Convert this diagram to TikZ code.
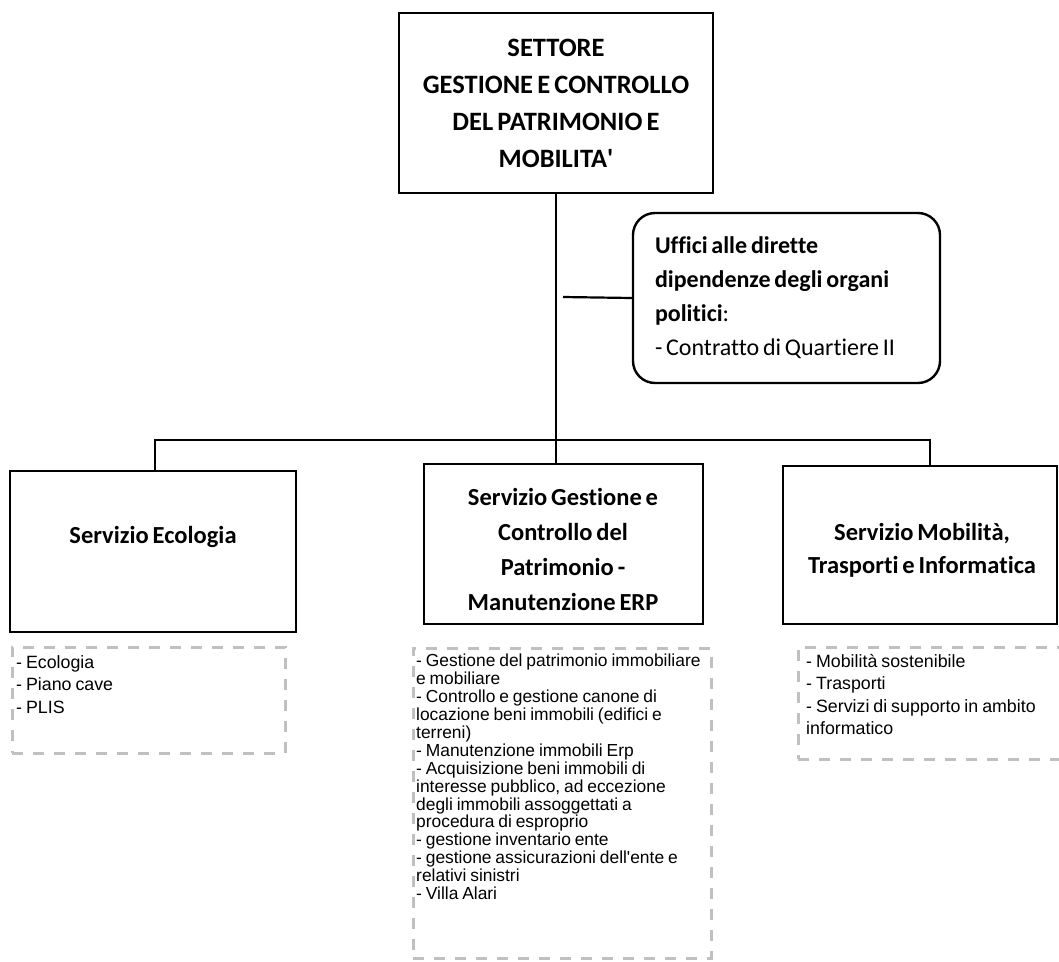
\documentclass[tikz,border=0pt]{standalone}
\usepackage{amsmath, amssymb}
\usepackage{fontspec}
\setmainfont{Carlito}[Ligatures={NoCommon}, WordSpace=0.7]
\newfontfamily\elencofont{Liberation Sans}[WordSpace=0.8]
\usepackage{tikz}

\definecolor{grigio}{RGB}{192,192,192}

\tikzset{
        settore/.style={draw=black, line width=2.4pt, align=center, font=\fontsize{26.5}{37}\selectfont\bfseries},
        ufficio/.style={draw=black, line width=2.4pt, rounded corners=22pt, align=flush left, inner xsep=22pt, text width=263pt, font=\fontsize{24}{34}\selectfont},
        servbox/.style={draw=black, line width=2.4pt},
        servtitolo/.style={align=center, font=\fontsize{24.5}{35}\selectfont\bfseries},
        elencobox/.style={draw=grigio, line width=3pt, dash pattern=on 11pt off 10pt},
        elenco/.style={align=left, anchor=north west, font=\elencofont\fontsize{17.8}{22.5}\selectfont},
        linea/.style={draw=black, line width=2.2pt}
}

\begin{document}
\begin{tikzpicture}[x=1pt,y=-1pt]
                \tikzstyle{every node}+=[inner sep=0pt]
                \clip (0,0) rectangle (1059,961);
                \node [settore, minimum width=314, minimum height=180] (settore) at (556,103) {SETTORE\\GESTIONE E CONTROLLO\\DEL PATRIMONIO E\\MOBILITA\textquotesingle};
                \node [ufficio, minimum height=170] (uffici) at (786.5,298) {\textbf{Uffici alle dirette}\\\textbf{dipendenze degli organi}\\\textbf{politici}:\\- Contratto di Quartiere II};
                \node [servbox, minimum width=286, minimum height=161] (ecologia) at (153,551.5) {};
                \node [servtitolo] (ecologiaT) at (153,537) {Servizio Ecologia};
                \node [servbox, minimum width=279, minimum height=160] (gestione) at (563.5,544) {};
                \node [servtitolo] (gestioneT) at (563,549) {Servizio Gestione e\\Controllo del\\Patrimonio -\\Manutenzione ERP};
                \node [servbox, minimum width=274, minimum height=158] (mobilita) at (920,545) {};
                \node [servtitolo, font=\fontsize{24.5}{33}\selectfont\bfseries] (mobilitaT) at (922,550) {Servizio Mobilità,\\Trasporti e Informatica};
                \node [elencobox, minimum width=273, minimum height=106] (ecologiaB) at (148.5,700) {};
                \node [elenco] (ecologiaL) at (16,655) {- Ecologia\\- Piano cave\\- PLIS};
                \node [elencobox, minimum width=298, minimum height=310] (gestioneB) at (562,803) {};
                \node [elenco, font=\elencofont\fontsize{17.4}{17.9}\selectfont] (gestioneL) at (416,654) {- Gestione del patrimonio immobiliare\\e mobiliare\\- Controllo e gestione canone di\\locazione beni immobili (edifici e\\terreni)\\- Manutenzione immobili Erp\\- Acquisizione beni immobili di\\interesse pubblico, ad eccezione\\degli immobili assoggettati a\\procedura di esproprio\\- gestione inventario ente\\- gestione assicurazioni dell\textquotesingle ente e\\relativi sinistri\\- Villa Alari};
                \node [elencobox, minimum width=268, minimum height=112] (mobilitaB) at (932,703) {};
                \node [elenco] (mobilitaL) at (806,654) {- Mobilità sostenibile\\- Trasporti\\- Servizi di supporto in ambito\\informatico};
                \coordinate (busL) at (155,440);
                \coordinate (busR) at (930,440);
                \coordinate (ramo) at (563,297);
                \draw [linea] (settore.south) -- (settore.south |- gestione.north);
                \draw [linea] (ramo) -- (uffici.west);
                \draw [linea] (ecologia.north -| busL) -- (busL) -- (busR) -- (busR |- mobilita.north);
\end{tikzpicture}
\end{document}
